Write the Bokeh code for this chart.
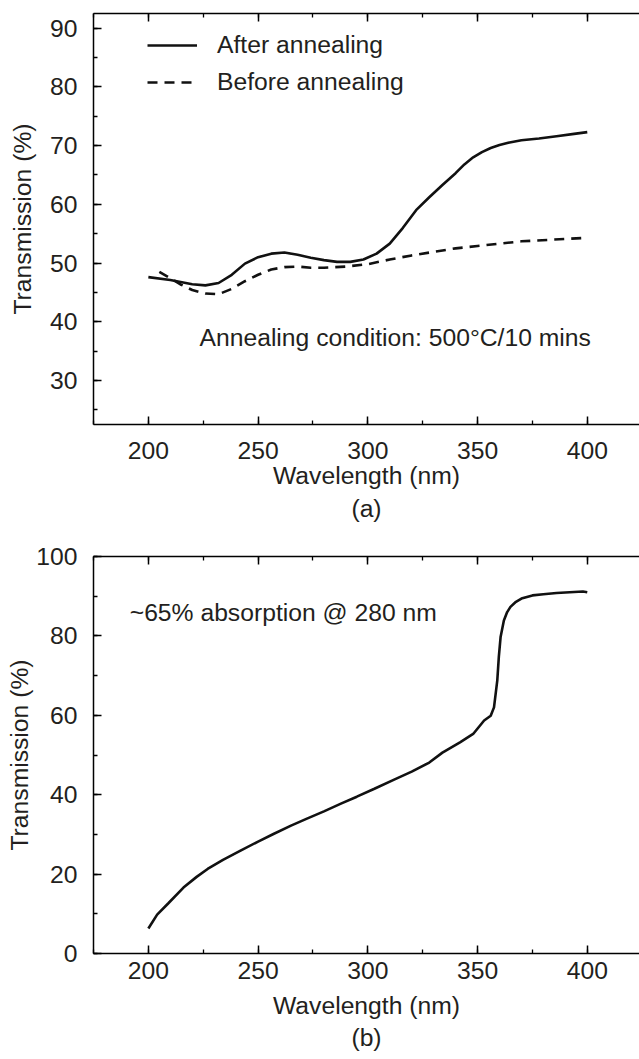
from bokeh.plotting import figure
from bokeh.layouts import column
from bokeh.models import (LinearAxis, Range1d, Label, Legend, LegendItem, Title,
                          SingleIntervalTicker)
from bokeh.embed import file_html
from bokeh.resources import INLINE

# ---------------- data (a) ----------------
wl_after = [200, 210, 220, 226, 232, 238, 244, 250, 256, 262, 268, 274, 280, 286,
            292, 298, 304, 310, 316, 322, 328, 334, 340, 344, 348, 352, 356, 360,
            364, 370, 378, 386, 394, 400]
t_after = [47.6, 47.1, 46.4, 46.2, 46.6, 48.0, 49.9, 51.0, 51.6, 51.8, 51.4, 50.9,
           50.5, 50.2, 50.2, 50.6, 51.6, 53.3, 56.0, 59.0, 61.2, 63.3, 65.3, 66.8,
           68.0, 68.9, 69.6, 70.1, 70.5, 70.9, 71.2, 71.6, 72.0, 72.3]
wl_before = [205, 210, 215, 220, 226, 232, 238, 244, 250, 256, 262, 268, 274, 280,
             290, 300, 310, 320, 330, 340, 350, 360, 370, 385, 400]
t_before = [48.5, 47.4, 46.3, 45.4, 44.8, 44.7, 45.6, 46.9, 48.0, 48.9, 49.3, 49.4,
            49.2, 49.2, 49.4, 49.8, 50.6, 51.3, 51.9, 52.5, 52.9, 53.3, 53.7, 54.0, 54.3]

# ---------------- data (b) ----------------
wl_b = [200, 204, 209, 216, 222, 227, 234, 242, 250, 257, 265, 272, 280, 288, 295,
        303, 312, 320, 328, 334, 342, 348, 353, 356, 357.5, 359, 359.7, 360.5, 362,
        363.5, 365, 367.5, 370, 375, 380, 386, 392, 398, 400]
t_b = [6.3, 9.8, 12.6, 16.6, 19.3, 21.3, 23.6, 25.9, 28.2, 30.1, 32.2, 33.9, 35.8,
       37.8, 39.5, 41.5, 43.8, 45.8, 48.1, 50.6, 53.2, 55.3, 58.7, 59.9, 62.0, 68.8,
       74.7, 79.7, 83.9, 86.0, 87.3, 88.6, 89.4, 90.2, 90.5, 90.8, 91.0, 91.2, 91.0]

FONT = "Liberation Sans"
FS = "24.7px"
TXT = "#231f20"


def style_axis(ax, interval, show_labels=True, standoff=12, label_standoff=0):
    ax.ticker = SingleIntervalTicker(interval=interval, num_minor_ticks=2)
    ax.axis_line_color = "black"
    ax.axis_line_width = 1.5
    ax.major_tick_line_color = "black"
    ax.major_tick_line_width = 1.5
    ax.minor_tick_line_color = "black"
    ax.minor_tick_line_width = 1.3
    ax.major_tick_in = 8
    ax.major_tick_out = 0
    ax.minor_tick_in = 4
    ax.minor_tick_out = 0
    ax.major_label_text_font = FONT
    ax.major_label_text_color = TXT
    ax.axis_label_text_font = FONT
    ax.axis_label_text_font_size = FS
    ax.axis_label_text_font_style = "normal"
    ax.axis_label_text_color = TXT
    ax.axis_label_standoff = label_standoff
    ax.major_label_standoff = standoff
    if show_labels:
        ax.major_label_text_font_size = FS
    else:
        ax.major_label_text_font_size = "0px"
        ax.major_label_text_alpha = 0
        ax.major_label_standoff = 0


def make_fig(height, ymin, ymax, top, bottom):
    p = figure(width=639, height=height, output_backend="svg", toolbar_location=None,
               x_range=Range1d(175, 423.8), y_range=Range1d(ymin, ymax),
               min_border_left=93, min_border_right=0, min_border_top=top,
               min_border_bottom=bottom)
    p.outline_line_color = None
    p.xgrid.visible = False
    p.ygrid.visible = False
    p.background_fill_color = "white"
    bottom_ax = p.below[0]
    left_ax = p.left[0]
    top_ax = LinearAxis()
    style_axis(top_ax, 50, show_labels=False)
    p.add_layout(top_ax, "above")
    return p, bottom_ax, left_ax


# ---------------- figure (a) ----------------
p1, bx1, ly1 = make_fig(530, 22.5, 92.5, 13, 106)
style_axis(bx1, 50, standoff=17, label_standoff=0)
style_axis(ly1, 10, standoff=16, label_standoff=11)
bx1.axis_label = "Wavelength (nm)"
ly1.axis_label = "Transmission (%)"

r_after = p1.line(wl_after, t_after, line_color="#111111", line_width=2.6)
r_before = p1.line(wl_before, t_before, line_color="#111111", line_width=2.6,
                   line_dash="10 7")

legend = Legend(items=[LegendItem(label="After annealing", renderers=[r_after]),
                       LegendItem(label="Before annealing", renderers=[r_before])],
                location=(54, 325), border_line_color=None, background_fill_alpha=0,
                glyph_width=50, glyph_height=34, label_height=34, label_standoff=20,
                spacing=3, padding=0, margin=0, label_text_font=FONT,
                label_text_font_size=FS, label_text_color=TXT)
p1.add_layout(legend)

p1.add_layout(Label(x=223.3, y=37.3, text="Annealing condition: 500°C/10 mins",
                    text_baseline="middle", text_font=FONT, text_font_size=FS,
                    text_color=TXT))
p1.add_layout(Title(text="(a)", align="center", text_font=FONT, text_font_size=FS,
                    text_font_style="normal", text_color=TXT, standoff=2), "below")

# ---------------- figure (b) ----------------
p2, bx2, ly2 = make_fig(529, 0, 100, 26, 106)
style_axis(bx2, 50, standoff=8, label_standoff=10)
style_axis(ly2, 20, standoff=16, label_standoff=0)
bx2.axis_label = "Wavelength (nm)"
ly2.axis_label = "Transmission (%)"

p2.line(wl_b, t_b, line_color="#111111", line_width=2.6)
p2.add_layout(Label(x=191.5, y=86.0, text="~65% absorption @ 280 nm",
                    text_baseline="middle", text_font=FONT, text_font_size=FS,
                    text_color=TXT))
p2.add_layout(Title(text="(b)", align="center", text_font=FONT, text_font_size=FS,
                    text_font_style="normal", text_color=TXT, standoff=0), "below")

layout = column(p1, p2, spacing=0)
open("out.html", "w").write(file_html(layout, INLINE))
